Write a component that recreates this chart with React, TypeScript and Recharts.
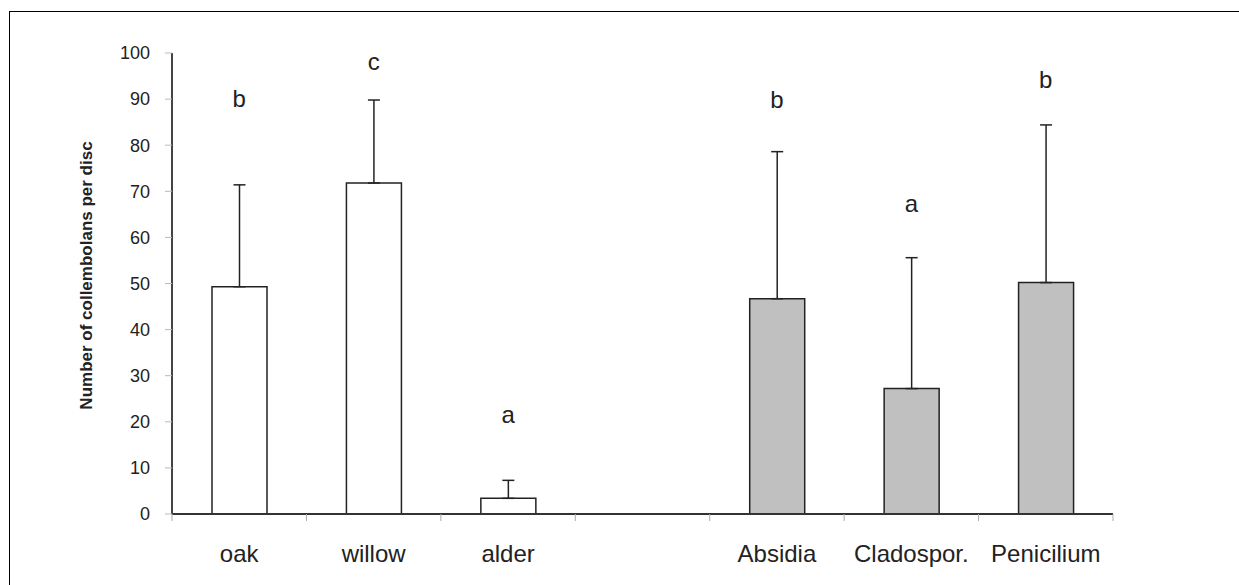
import { ComposedChart, Bar, XAxis, YAxis, ErrorBar, Scatter, Cell, Label } from 'recharts'

const categories = ['oak', 'willow', 'alder', '', 'Absidia', 'Cladospor.', 'Penicilium']
const groups = ['litter', 'litter', 'litter', '', 'fungus', 'fungus', 'fungus']
const means = [49.3, 71.8, 3.4, null, 46.7, 27.2, 50.2]
const upperError = [22.1, 18.0, 3.9, null, 31.9, 28.4, 34.2]
const letters = ['b', 'c', 'a', '', 'b', 'a', 'b']
// height (in y units) where each significance letter sits
const letterLevels = [88.3, 96.3, 19.8, null, 88.1, 65.5, 92.4]
const yTicks = [0, 10, 20, 30, 40, 50, 60, 70, 80, 90, 100]

const GROUP_FILL: Record<string, string> = {
  litter: '#ffffff',
  fungus: '#c0c0c0',
}

const data = categories.map((name, i) => ({
  name,
  group: groups[i],
  mean: means[i],
  err: upperError[i] == null ? null : [0, upperError[i]],
  letter: letters[i],
  letterY: letterLevels[i],
}))

const CHART_W = 1239
const CHART_H = 585
const Y_AXIS_W = 172
const RIGHT = 126
const BAND = (CHART_W - Y_AXIS_W - RIGHT) / categories.length

function CategoryTick(props: any) {
  const { x, y, payload, index } = props
  const half = BAND / 2
  const i = index ?? payload.index
  return (
    <g>
      <line x1={x - half} x2={x - half} y1={y} y2={y + 7} stroke="#aaa" />
      {i === categories.length - 1 && (
        <line x1={x + half} x2={x + half} y1={y} y2={y + 7} stroke="#aaa" />
      )}
      <text x={x} y={y + 31} dy="0.71em" textAnchor="middle" fontSize={24} fill="#222">
        {payload.value}
      </text>
    </g>
  )
}

function LetterMark(props: any) {
  const { cx, cy, payload } = props
  if (!payload || !payload.letter || cy == null || isNaN(cy)) return null
  return (
    <text x={cx} y={cy} textAnchor="middle" fontSize={24} fill="#222">
      {payload.letter}
    </text>
  )
}

function AxisTitle({ viewBox }: any) {
  if (!viewBox) return null
  const cx = viewBox.x + 86
  const cy = viewBox.y + viewBox.height / 2 - 8
  return (
    <text
      x={cx}
      y={cy}
      transform={`rotate(-90 ${cx} ${cy})`}
      textAnchor="middle"
      dominantBaseline="central"
      fontSize={17}
      fontWeight="bold"
      fill="#222"
    >
      Number of collembolans per disc
    </text>
  )
}

export default function App() {
  return (
    <div style={{ fontFamily: '"Liberation Sans", Arial, sans-serif' }}>
      <div
        style={{
          position: 'absolute',
          left: 9,
          top: 11,
          width: CHART_W - 9,
          height: CHART_H - 11,
          borderTop: '1px solid #000',
          borderLeft: '1px solid #000',
          boxSizing: 'border-box',
        }}
      />
      <div style={{ position: 'absolute', left: 0, top: 0 }}>
        <ComposedChart
          width={CHART_W}
          height={CHART_H}
          data={data}
          margin={{ top: 53, right: RIGHT, bottom: 0, left: 0 }}
        >
          <XAxis
            xAxisId="cat"
            dataKey="name"
            interval={0}
            height={71}
            tickLine={false}
            tickSize={0}
            tickMargin={0}
            axisLine={{ stroke: '#333', strokeWidth: 2 }}
            tick={<CategoryTick />}
          />
          <YAxis
            domain={[0, 100]}
            ticks={yTicks}
            interval={0}
            width={Y_AXIS_W}
            tickSize={7}
            tickMargin={15}
            tickLine={{ stroke: '#bbb' }}
            axisLine={{ stroke: '#444', strokeWidth: 2 }}
            tick={{ fontSize: 18, fill: '#222' }}
          >
            <Label content={<AxisTitle />} />
          </YAxis>
          <Bar
            xAxisId="cat"
            dataKey="mean"
            barSize={55}
            stroke="#222"
            strokeWidth={1.5}
            isAnimationActive={false}
          >
            {data.map((d) => (
              <Cell key={d.name || 'gap'} fill={GROUP_FILL[d.group] || '#fff'} />
            ))}
            <ErrorBar dataKey="err" width={6} stroke="#222" strokeWidth={1.5} direction="y" />
          </Bar>
          <Scatter
            xAxisId="cat"
            dataKey="letterY"
            shape={<LetterMark />}
            isAnimationActive={false}
          />
        </ComposedChart>
      </div>
    </div>
  )
}
